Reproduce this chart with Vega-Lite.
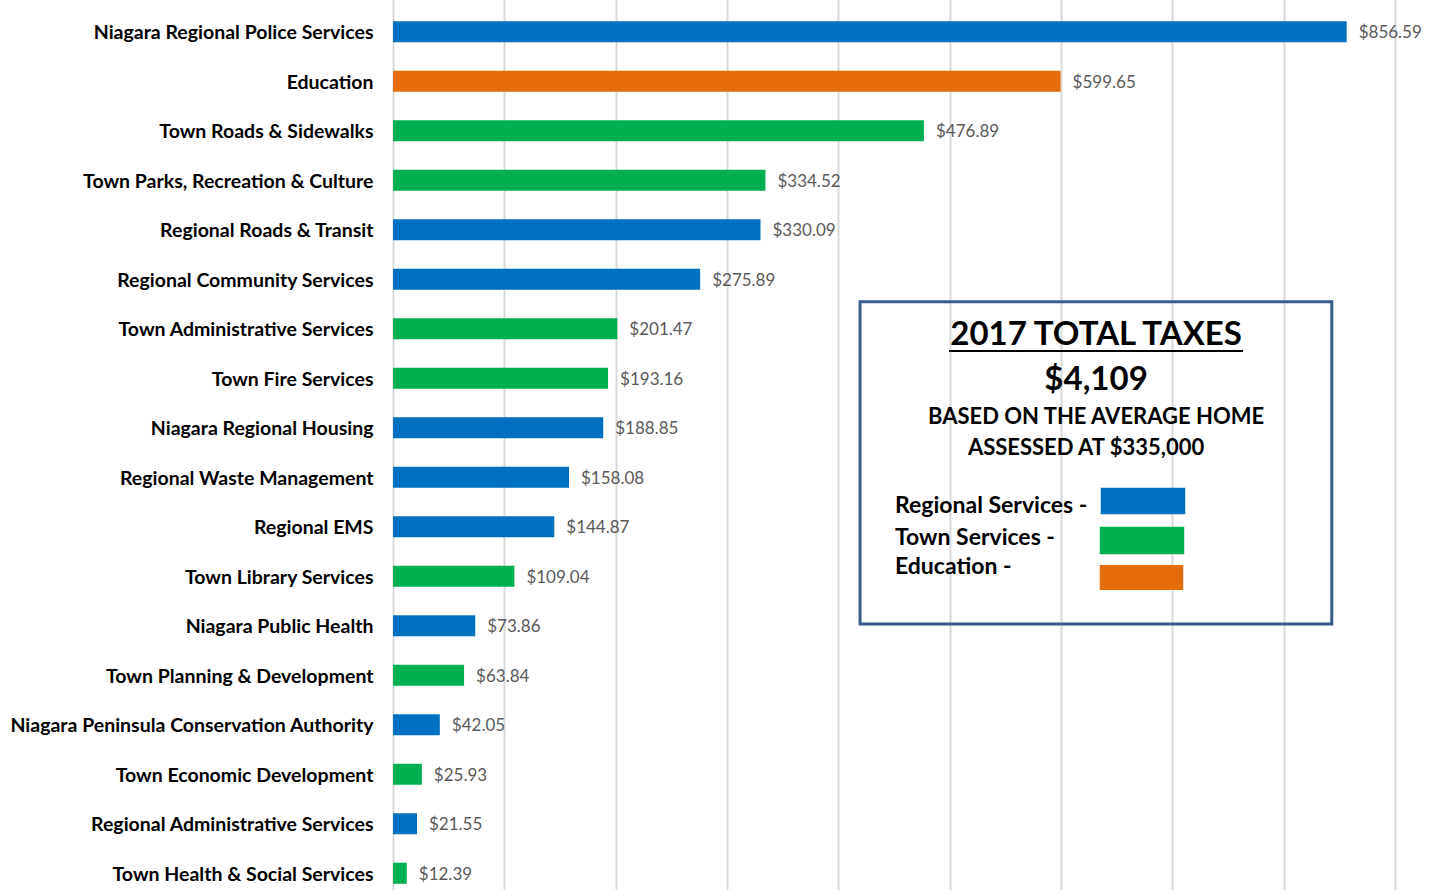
{
  "$schema": "https://vega.github.io/schema/vega-lite/v6.json",
  "width": 1002,
  "height": 883,
  "autosize": {"type": "none"},
  "padding": {"left": 393, "top": 7, "right": 44, "bottom": 0},
  "background": "white",
  "config": {
    "view": {"stroke": null},
    "font": "Lato",
    "axisX": {"grid": true, "gridColor": "#D9D9D9", "gridWidth": 2, "labels": false, "ticks": false, "domain": false, "tickCount": 9},
    "axisY": {"grid": false, "ticks": false, "tickSize": 0, "domain": false, "labelFontSize": 19.5, "labelFontWeight": "bold", "labelColor": "#000000", "labelPadding": 20, "labelLimit": 450, "labelFont": "Lato", "labelOffset": 1.5}
  },
  "resolve": {"scale": {"y": "independent"}},
  "layer": [
    {
      "data": {"values": [
        {"service": "Niagara Regional Police Services", "amount": 856.59, "group": "Regional Services"},
        {"service": "Education", "amount": 599.65, "group": "Education"},
        {"service": "Town Roads & Sidewalks", "amount": 476.89, "group": "Town Services"},
        {"service": "Town Parks, Recreation & Culture", "amount": 334.52, "group": "Town Services"},
        {"service": "Regional Roads & Transit", "amount": 330.09, "group": "Regional Services"},
        {"service": "Regional Community Services", "amount": 275.89, "group": "Regional Services"},
        {"service": "Town Administrative Services", "amount": 201.47, "group": "Town Services"},
        {"service": "Town Fire Services", "amount": 193.16, "group": "Town Services"},
        {"service": "Niagara Regional Housing", "amount": 188.85, "group": "Regional Services"},
        {"service": "Regional Waste Management", "amount": 158.08, "group": "Regional Services"},
        {"service": "Regional EMS", "amount": 144.87, "group": "Regional Services"},
        {"service": "Town Library Services", "amount": 109.04, "group": "Town Services"},
        {"service": "Niagara Public Health", "amount": 73.86, "group": "Regional Services"},
        {"service": "Town Planning & Development", "amount": 63.84, "group": "Town Services"},
        {"service": "Niagara Peninsula Conservation Authority", "amount": 42.05, "group": "Regional Services"},
        {"service": "Town Economic Development", "amount": 25.93, "group": "Town Services"},
        {"service": "Regional Administrative Services", "amount": 21.55, "group": "Regional Services"},
        {"service": "Town Health & Social Services", "amount": 12.39, "group": "Town Services"}
      ]},
      "encoding": {
        "y": {"field": "service", "type": "nominal", "sort": null, "title": null,
              "scale": {"range": [0, 891], "paddingInner": 0.576, "paddingOuter": 0.288}},
        "x": {"field": "amount", "type": "quantitative", "title": null,
              "scale": {"domain": [0, 900], "nice": false, "zero": true}}
      },
      "layer": [
        {"mark": {"type": "bar"},
         "encoding": {"color": {"field": "group", "type": "nominal",
           "scale": {"domain": ["Regional Services", "Town Services", "Education"], "range": ["#0070C0", "#00B050", "#E46C0A"]},
           "legend": null}}},
        {"mark": {"type": "text", "align": "left", "baseline": "middle", "dx": 12, "dy": 1.5, "fontSize": 17, "color": "#595959", "font": "Lato"},
         "encoding": {"text": {"field": "amount", "type": "quantitative", "format": "$,.2f"}}}
      ]
    },
    {
      "data": {"values": [{}]},
      "layer": [
        {"mark": {"type": "rect", "fill": null, "fillOpacity": 0, "stroke": "#385D8A", "strokeWidth": 3},
         "encoding": {
           "x": {"datum": 419.5, "type": "quantitative", "title": null},
           "x2": {"datum": 843.2},
           "y": {"datum": 5.953, "type": "quantitative", "axis": null, "scale": {"domain": [0, 18], "range": [0, 891], "nice": false, "zero": false}},
           "y2": {"datum": 12.465}
         }},
        {"mark": {"type": "text", "text": "2017 TOTAL TAXES", "align": "center", "baseline": "alphabetic", "fontSize": 33, "fontWeight": "bold", "color": "#000000", "font": "Lato"},
         "encoding": {"x": {"datum": 631.5, "type": "quantitative", "title": null}, "y": {"datum": 6.828, "type": "quantitative", "axis": null}}},
        {"mark": {"type": "rule", "color": "#000000", "strokeWidth": 2},
         "encoding": {"x": {"datum": 499.4, "type": "quantitative", "title": null}, "x2": {"datum": 763.5}, "y": {"datum": 6.949, "type": "quantitative", "axis": null}}},
        {"mark": {"type": "text", "text": "$4,109", "align": "center", "baseline": "alphabetic", "fontSize": 33, "fontWeight": "bold", "color": "#000000", "font": "Lato"},
         "encoding": {"x": {"datum": 631.5, "type": "quantitative", "title": null}, "y": {"datum": 7.737, "type": "quantitative", "axis": null}}},
        {"mark": {"type": "text", "text": "BASED ON THE AVERAGE HOME", "align": "center", "baseline": "alphabetic", "fontSize": 22, "fontWeight": "bold", "color": "#000000", "font": "Lato"},
         "encoding": {"x": {"datum": 631.5, "type": "quantitative", "title": null}, "y": {"datum": 8.424, "type": "quantitative", "axis": null}}},
        {"mark": {"type": "text", "text": "ASSESSED AT $335,000", "align": "center", "baseline": "alphabetic", "fontSize": 22, "fontWeight": "bold", "color": "#000000", "font": "Lato"},
         "encoding": {"x": {"datum": 622.5, "type": "quantitative", "title": null}, "y": {"datum": 9.051, "type": "quantitative", "axis": null}}},
        {"mark": {"type": "text", "text": "Regional Services -", "align": "left", "baseline": "alphabetic", "fontSize": 23, "fontWeight": "bold", "color": "#000000", "font": "Lato"},
         "encoding": {"x": {"datum": 450.9, "type": "quantitative", "title": null}, "y": {"datum": 10.216, "type": "quantitative", "axis": null}}},
        {"mark": {"type": "text", "text": "Town Services -", "align": "left", "baseline": "alphabetic", "fontSize": 23, "fontWeight": "bold", "color": "#000000", "font": "Lato"},
         "encoding": {"x": {"datum": 450.9, "type": "quantitative", "title": null}, "y": {"datum": 10.869, "type": "quantitative", "axis": null}}},
        {"mark": {"type": "text", "text": "Education  -", "align": "left", "baseline": "alphabetic", "fontSize": 23, "fontWeight": "bold", "color": "#000000", "font": "Lato"},
         "encoding": {"x": {"datum": 450.9, "type": "quantitative", "title": null}, "y": {"datum": 11.455, "type": "quantitative", "axis": null}}},
        {"mark": {"type": "rect"},
         "encoding": {"x": {"datum": 635.7, "type": "quantitative", "title": null}, "x2": {"datum": 711.6},
                      "y": {"datum": 9.711, "type": "quantitative", "axis": null}, "y2": {"datum": 10.248},
                      "color": {"datum": "Regional Services", "type": "nominal", "legend": null}}},
        {"mark": {"type": "rect"},
         "encoding": {"x": {"datum": 634.8, "type": "quantitative", "title": null}, "x2": {"datum": 710.7},
                      "y": {"datum": 10.499, "type": "quantitative", "axis": null}, "y2": {"datum": 11.057},
                      "color": {"datum": "Town Services", "type": "nominal", "legend": null}}},
        {"mark": {"type": "rect"},
         "encoding": {"x": {"datum": 634.8, "type": "quantitative", "title": null}, "x2": {"datum": 709.8},
                      "y": {"datum": 11.273, "type": "quantitative", "axis": null}, "y2": {"datum": 11.778},
                      "color": {"datum": "Education", "type": "nominal", "legend": null}}}
      ]
    }
  ]
}
